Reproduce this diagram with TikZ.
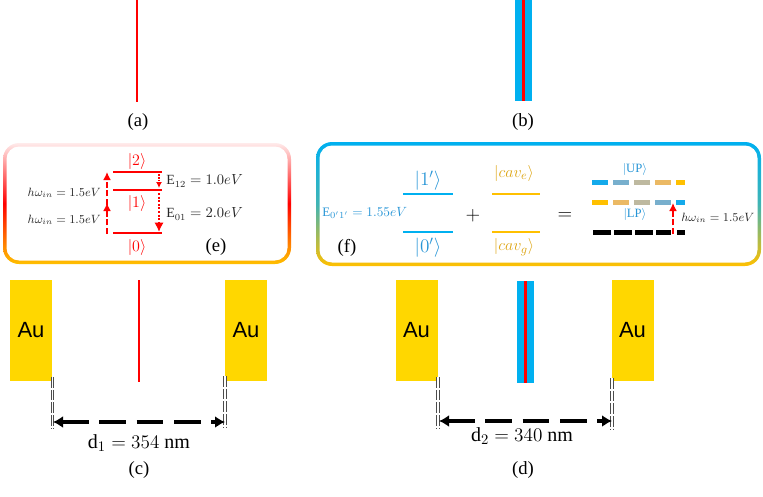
\documentclass[tikz,border=0pt]{standalone}
\usepackage{fontspec}
\setmainfont{Liberation Serif}
\newfontfamily\arialfont{Liberation Sans}
\usetikzlibrary{arrows.meta}
\definecolor{cred}{RGB}{255,0,0}
\definecolor{cblue}{RGB}{0,176,240}
\definecolor{augold}{RGB}{255,215,0}
\definecolor{corange}{RGB}{255,192,0}
\definecolor{ctxtgold}{RGB}{222,166,20}
\definecolor{ctxtblue}{RGB}{40,150,215}
\definecolor{ctext}{RGB}{40,40,40}
\definecolor{gA}{RGB}{20,170,235}
\definecolor{gB}{RGB}{120,175,205}
\definecolor{gC}{RGB}{190,185,160}
\definecolor{gD}{RGB}{235,185,100}
\definecolor{gE}{RGB}{255,192,0}
\begin{document}
\begin{tikzpicture}[x=0.75pt,y=-0.75pt,
  lbl/.style={font=\fontsize{14}{16}\selectfont, inner sep=0pt},
  small/.style={font=\fontsize{9}{11}\selectfont, inner sep=0pt, text=ctext},
  ket/.style={font=\fontsize{12}{14}\selectfont, inner sep=0pt},
  aubox/.style={fill=augold, minimum width=31.5pt, minimum height=75.75pt, inner sep=0pt, font=\arialfont\fontsize{16.5}{17}\selectfont},
  redline/.style={draw=cred, line width=1.9pt},
  lev/.style={line width=2.2pt},
  dimline/.style={draw=gray!60!black, line width=0.55pt, double=white, double distance=1.3pt, dash pattern=on 8pt off 1.5pt},
  dimarrow/.style={{Latex[length=7.5pt,width=9pt]}-{Latex[length=7.5pt,width=9pt]}, line width=2.8pt, dash pattern=on 20pt off 8pt},
  upar/.style={-{Latex[length=6pt,width=6pt]}, draw=cred, line width=1.6pt, dash pattern=on 4.5pt off 2pt},
  dnar/.style={-{Latex[length=7pt,width=7pt]}, draw=cred, line width=2pt, dash pattern=on 1.5pt off 1.2pt},
  dnarthin/.style={-{Latex[length=4.5pt,width=4.5pt]}, draw=cred, line width=1.1pt, dash pattern=on 1.2pt off 1pt},
  seg/.style={line width=3.75pt}
]
\useasboundingbox (0,0) rectangle (763,496);

% ---------- (a) ----------
\draw[redline] (137,0) -- (137,102);
\node[lbl] (la) at (138,122) {(a)};

% ---------- (b) ----------
\fill[cblue] (515,0) rectangle (532,101);
\fill[cred] (522,0) rectangle (525,101);
\node[lbl] (lb) at (523,122) {(b)};

% ---------- (e) box ----------
\shade[top color=red!8, bottom color=corange, middle color=cred, rounded corners=12pt] (3,143) rectangle (291,264);
\fill[white, rounded corners=9.5pt] (6.5,146.5) rectangle (287.5,260.5);

\coordinate (l2a) at (113,172); \coordinate (l2b) at (162,172);
\coordinate (l1a) at (113,190); \coordinate (l1b) at (162,190);
\coordinate (l0a) at (113,233); \coordinate (l0b) at (162,233);
\draw[lev, cred] (l2a) -- (l2b);
\draw[lev, cred] (l1a) -- (l1b);
\draw[lev, cred] (l0a) -- (l0b);
\node[ket, text=cred] (k2) at (137,161) {$|2\rangle$};
\node[ket, text=cred] (k1) at (137,203) {$|1\rangle$};
\node[ket, text=cred] (k0) at (137,247) {$|0\rangle$};

\coordinate (u0) at (107,234); \coordinate (u1) at (107,203);
\coordinate (u1b) at (107,205); \coordinate (u2) at (107,172);
\draw[upar] (u0) -- (u1);
\draw[upar] (u1b) -- (u2);
\coordinate (d2) at (159,174); \coordinate (d1) at (159,188);
\coordinate (d1b) at (159,193); \coordinate (d0) at (159,232);
\draw[dnarthin] (d2) -- (d1);
\draw[dnar] (d1b) -- (d0);

\node[small, anchor=east] (hw1) at (101,193) {$h\omega_{in} = 1.5eV$};
\node[small, anchor=east] (hw2) at (101,220) {$h\omega_{in} = 1.5eV$};
\node[small, anchor=west, font=\fontsize{10.5}{12}\selectfont] (e12) at (166,181) {$\mathrm{E}_{12} = 1.0eV$};
\node[small, anchor=west, font=\fontsize{10.5}{12}\selectfont] (e01) at (166,214) {$\mathrm{E}_{01} = 2.0eV$};
\node[lbl] (le) at (216,247) {(e)};

% ---------- (f) box ----------
\shade[top color=cblue, bottom color=corange, middle color=cblue!75!corange, rounded corners=12pt] (316,142) rectangle (761,266);
\fill[white, rounded corners=9.5pt] (319.5,145.5) rectangle (757.5,262.5);

\coordinate (p1a) at (403,194); \coordinate (p1b) at (453,194);
\coordinate (p0a) at (403,232); \coordinate (p0b) at (453,232);
\draw[line width=1.7pt, cblue] (p1a) -- (p1b);
\draw[line width=1.7pt, cblue] (p0a) -- (p0b);
\node[ket, text=ctxtblue, font=\fontsize{14.5}{16}\selectfont] (kp1) at (428,181) {$|1'\rangle$};
\node[ket, text=ctxtblue, font=\fontsize{14.5}{16}\selectfont] (kp0) at (428,248) {$|0'\rangle$};
\node[small, anchor=west, text=ctxtblue, font=\fontsize{9.7}{11}\selectfont] (e0p1p) at (322,213) {$\mathrm{E}_{0'1'} = 1.55eV$};
\node[lbl] (lf) at (347,248) {(f)};

\node[lbl, font=\fontsize{15}{17}\selectfont] (plus) at (473,216) {$+$};
\coordinate (c1a) at (492,194); \coordinate (c1b) at (540,194);
\coordinate (c0a) at (492,232); \coordinate (c0b) at (540,232);
\draw[line width=1.7pt, corange] (c1a) -- (c1b);
\draw[line width=1.7pt, corange] (c0a) -- (c0b);
\node[small, text=ctxtgold, font=\fontsize{12.5}{14}\selectfont] (kce) at (514,173) {$|cav_e\rangle$};
\node[small, text=ctxtgold, font=\fontsize{12.5}{14}\selectfont] (kcg) at (514,247) {$|cav_g\rangle$};
\node[lbl, font=\fontsize{15}{17}\selectfont] (eq) at (565,216) {$=$};

% UP line
\draw[seg, gA] (592,182) -- (608,182);
\draw[seg, gB] (613,182) -- (629,182);
\draw[seg, gC] (634,182) -- (650,182);
\draw[seg, gD] (655,182) -- (671,182);
\draw[seg, gE] (676,182) -- (685,182);
% LP line
\draw[seg, gE] (592,202) -- (608,202);
\draw[seg, gD] (613,202) -- (629,202);
\draw[seg, gC] (634,202) -- (650,202);
\draw[seg, gB] (655,202) -- (671,202);
\draw[seg, gA] (676,202) -- (685,202);
% ground line
\draw[seg, black] (593,232) -- (611,232);
\draw[seg, black] (614,232) -- (632,232);
\draw[seg, black] (635,232) -- (653,232);
\draw[seg, black] (656,232) -- (671,232);
\draw[seg, black] (677,232) -- (685,232);
\node[small, text=ctxtblue, font=\fontsize{9.5}{11}\selectfont] (kup) at (635,169) {$|\mathrm{UP}\rangle$};
\node[small, text=ctxtblue, font=\fontsize{9.5}{11}\selectfont] (klp) at (635,214) {$|\mathrm{LP}\rangle$};
\coordinate (gu) at (673,234); \coordinate (lu) at (673,203);
\draw[upar] (gu) -- (lu);
\node[small, anchor=west] (hw3) at (681,218) {$h\omega_{in} = 1.5eV$};

% ---------- (c) ----------
\node[aubox] (au1) at (31,330.5) {Au};
\node[aubox] (au2) at (246,330.5) {Au};
\draw[redline] (139,280) -- (139,382);
\coordinate (c1t) at (52.5,377); \coordinate (c1d) at (52.5,428);
\coordinate (c2t) at (225,376); \coordinate (c2d) at (225,428);
\draw[dimline] (c1t) -- (c1d);
\draw[dimline] (c2t) -- (c2d);
\coordinate (ca) at (53,422); \coordinate (cb) at (225,422);
\draw[dimarrow] (ca) -- (cb);
\node[lbl, font=\fontsize{15}{17}\selectfont] (dd1) at (139,443) {$\mathrm{d}_1 = 354\ \mathrm{nm}$};
\node[lbl] (lc) at (139,470) {(c)};

% ---------- (d) ----------
\node[aubox] (au3) at (416.5,330.5) {Au};
\node[aubox] (au4) at (632.5,330.5) {Au};
\fill[cblue] (517,281) rectangle (534,383);
\fill[cred] (524,281) rectangle (527,383);
\coordinate (e1t) at (438,377); \coordinate (e1d) at (438,428);
\coordinate (e2t) at (612,378); \coordinate (e2d) at (612,430);
\draw[dimline] (e1t) -- (e1d);
\draw[dimline] (e2t) -- (e2d);
\coordinate (da) at (439,421); \coordinate (db) at (612,421);
\draw[dimarrow] (da) -- (db);
\node[lbl, font=\fontsize{15}{17}\selectfont] (dd2) at (522,436) {$\mathrm{d}_2 = 340\ \mathrm{nm}$};
\node[lbl] (ld) at (523,470) {(d)};
\end{tikzpicture}
\end{document}
